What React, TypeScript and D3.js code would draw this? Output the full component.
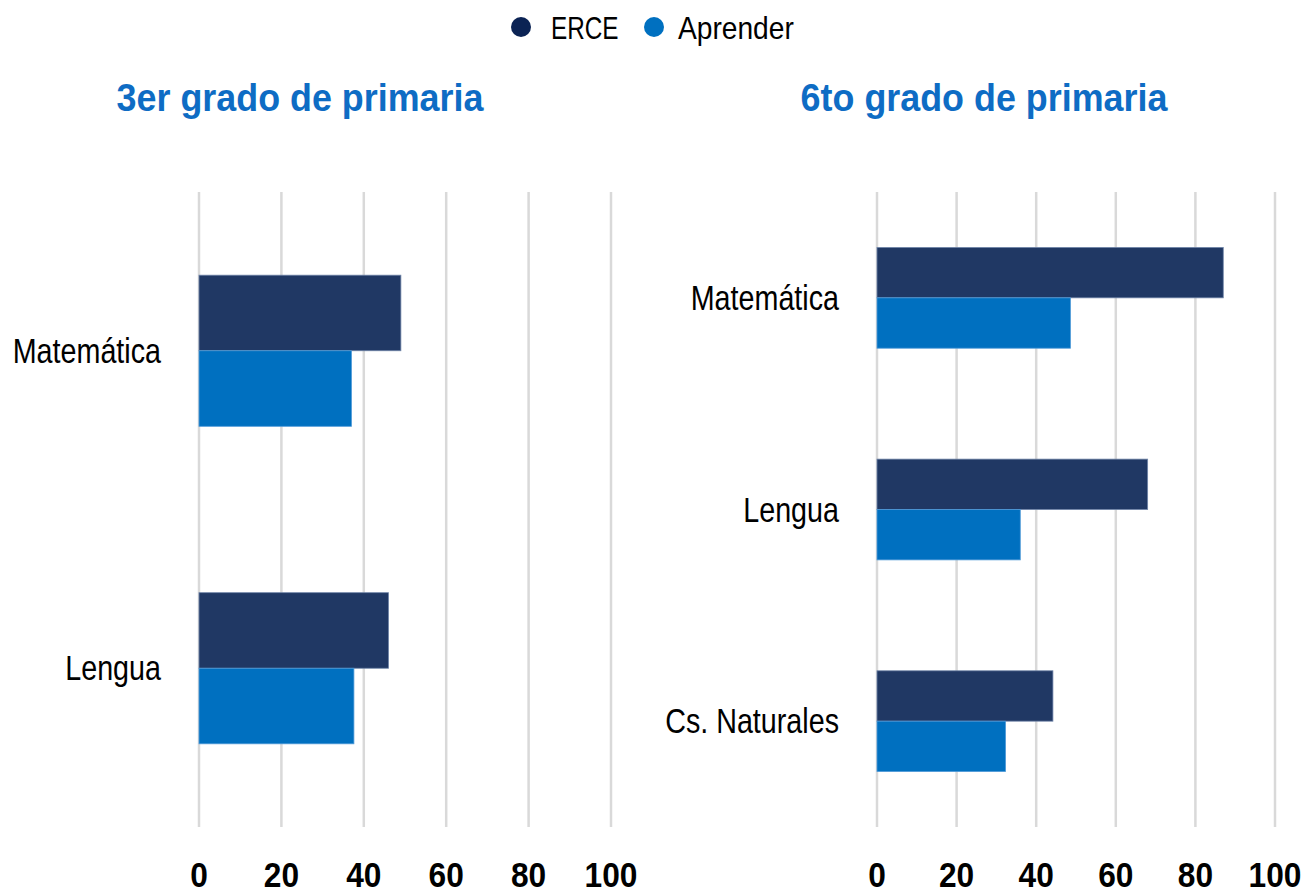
import React from "react";
import * as d3 from "d3";

const series = ["ERCE", "Aprender"];
const colors = ["#203864", "#0070C0"];
const legendColors = ["#0b2354", "#0070C0"];

const leftTitle = "3er grado de primaria";
const leftCategories = ["Matemática", "Lengua"];
const leftERCE = [49, 46];
const leftAprender = [37, 37.6];

const rightTitle = "6to grado de primaria";
const rightCategories = ["Matemática", "Lengua", "Cs. Naturales"];
const rightERCE = [87, 68, 44.2];
const rightAprender = [48.6, 36, 32.3];

const ticks = [0, 20, 40, 60, 80, 100];

const FONT = "'Liberation Sans', Arial, sans-serif";

type CTextProps = {
  x: number;
  y: number;
  sx: number;
  anchor?: "start" | "middle" | "end";
  size: number;
  bold?: boolean;
  fill?: string;
  children: React.ReactNode;
};

function CText({ x, y, sx, anchor = "start", size, bold, fill = "#000", children }: CTextProps) {
  return (
    <text
      transform={`translate(${x},${y}) scale(${sx},1)`}
      textAnchor={anchor}
      fontFamily={FONT}
      fontWeight={bold ? "bold" : "normal"}
      fontSize={size}
      fill={fill}
    >
      {children}
    </text>
  );
}

type PanelProps = {
  title: string;
  titleX: number;
  cats: string[];
  a: number[];
  b: number[];
  x0: number;
  x1: number;
};

function Panel({ title, titleX, cats, a, b, x0, x1 }: PanelProps) {
  const x = d3.scaleLinear().domain([0, 100]).range([x0, x1]);
  const y = d3.scaleBand().domain(cats).range([192, 827]).paddingInner(0.524).paddingOuter(0.262);
  const sub = d3.scaleBand().domain(series).range([0, y.bandwidth()]);
  const rows = cats.map((c, i) => ({ c, vals: [a[i], b[i]] }));
  return (
    <g>
      <CText x={titleX} y={111} sx={0.92} anchor="middle" size={39} bold fill="#0e6cc4">
        {title}
      </CText>
      {ticks.map((t) => (
        <g key={t}>
          <line x1={x(t)} x2={x(t)} y1={192} y2={827} stroke="#d9d9d9" strokeWidth={2.5} />
          <CText x={x(t)} y={887} sx={0.88} anchor="middle" size={36} bold>
            {t}
          </CText>
        </g>
      ))}
      {rows.map((r) => (
        <g key={r.c}>
          {r.vals.map((v, j) => (
            <rect
              key={j}
              x={x(0)}
              y={(y(r.c) as number) + (sub(series[j]) as number)}
              width={x(v) - x(0)}
              height={sub.bandwidth()}
              fill={colors[j]}
              stroke={j === 0 ? "#6f84a8" : "#4f9ad8"}
              strokeWidth={0.8}
            />
          ))}
          <CText x={x0 - 38} y={(y(r.c) as number) + y.bandwidth() / 2 + 12} sx={0.82} anchor="end" size={35}>
            {r.c}
          </CText>
        </g>
      ))}
    </g>
  );
}

export default function App() {
  return (
    <svg width={1305} height={893} style={{ display: "block", position: "absolute", left: 0, top: 0 }}>
      <rect width={1305} height={893} fill="#fff" />
      <g>
        {series.map((s, i) => {
          const cx = i === 0 ? 521 : 654;
          return (
            <g key={s}>
              <circle cx={cx} cy={27} r={10} fill={legendColors[i]} />
              <CText x={cx + (i === 0 ? 30 : 24)} y={39} sx={i === 0 ? 0.76 : 0.88} size={32}>
                {s}
              </CText>
            </g>
          );
        })}
      </g>
      <Panel title={leftTitle} titleX={300} cats={leftCategories} a={leftERCE} b={leftAprender} x0={199} x1={611} />
      <Panel title={rightTitle} titleX={984} cats={rightCategories} a={rightERCE} b={rightAprender} x0={877} x1={1275} />
    </svg>
  );
}
